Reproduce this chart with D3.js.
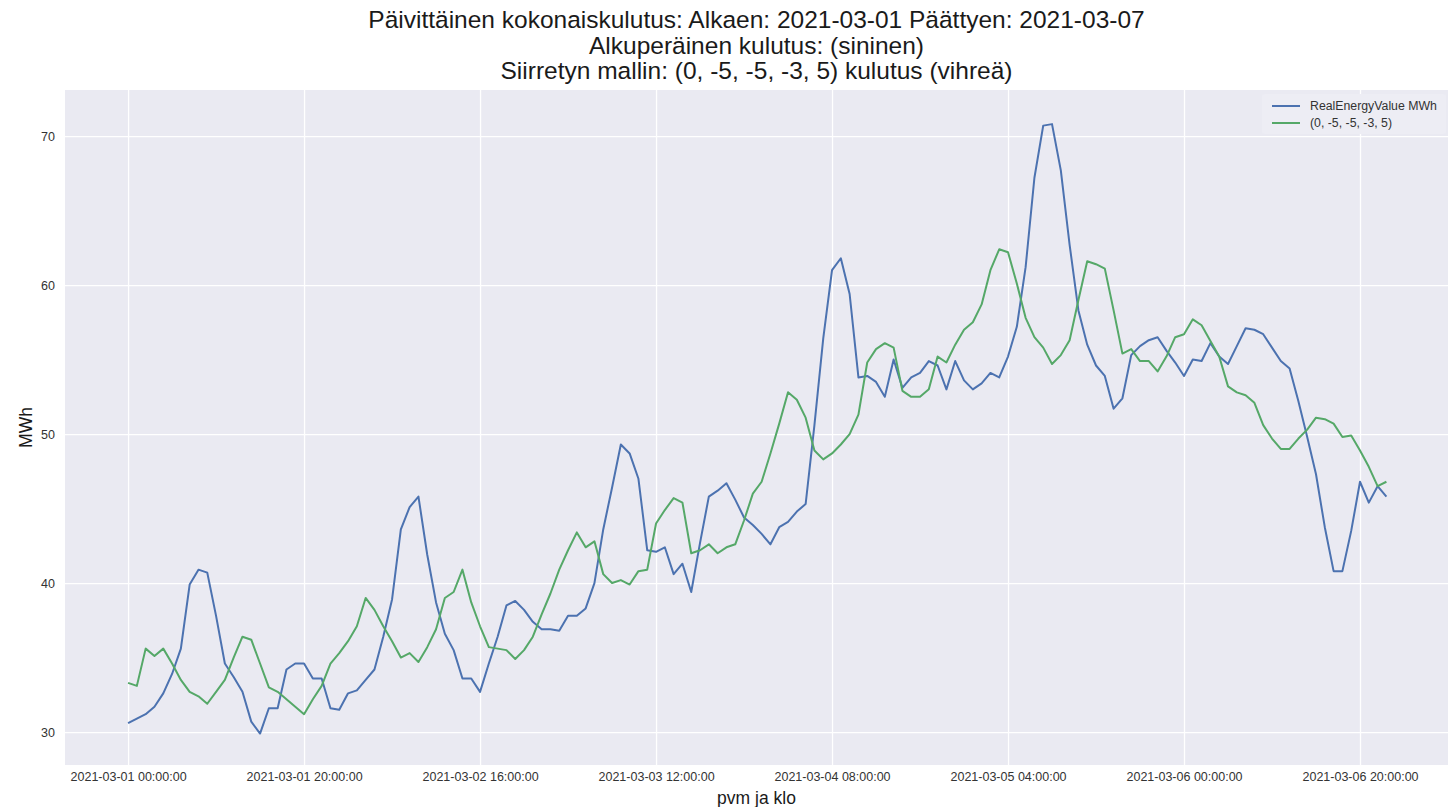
<!DOCTYPE html>
<html>
<head>
<meta charset="utf-8">
<script src="https://cdn.jsdelivr.net/npm/d3@7"></script>
<style>
  html, body { margin: 0; padding: 0; background: #ffffff; }
  svg { display: block; }
</style>
</head>
<body>
<svg id="chart" width="1455" height="807"></svg>
<script>
// ---- Data (hourly, starting 2021-03-01 00:00) ----
const startTime = "2021-03-01 00:00:00";
const titleLines = [
  "Päivittäinen kokonaiskulutus: Alkaen: 2021-03-01 Päättyen: 2021-03-07",
  "Alkuperäinen kulutus: (sininen)",
  "Siirretyn mallin: (0, -5, -5, -3, 5) kulutus (vihreä)"
];
const seriesNames = ["RealEnergyValue MWh", "(0, -5, -5, -3, 5)"];
const realValues = [
  30.6, 30.9, 31.2, 31.7, 32.6, 33.9, 35.6, 39.9, 40.9, 40.7, 37.8, 34.6, 33.7, 32.7, 30.7, 29.9, 31.6, 31.6, 34.2, 34.6, 34.6, 33.6, 33.6, 31.6, 31.5,
  32.6, 32.8, 33.5, 34.2, 36.4, 38.9, 43.6, 45.1, 45.8, 41.9, 38.7, 36.6, 35.5, 33.6, 33.6, 32.7, 34.6, 36.4, 38.5, 38.8, 38.2, 37.4, 36.9, 36.9,
  36.8, 37.8, 37.8, 38.3, 40.0, 43.6, 46.4, 49.3, 48.7, 47.0, 42.2, 42.1, 42.4, 40.6, 41.3, 39.4, 42.7, 45.8, 46.2, 46.7, 45.6, 44.4, 43.9, 43.3,
  42.6, 43.75, 44.1, 44.8, 45.3, 50.6, 56.4, 61.0, 61.8, 59.4, 53.8, 53.9, 53.5, 52.5, 55.0, 53.1, 53.8, 54.1, 54.9, 54.6, 53.0, 54.9, 53.6,
  53.0, 53.4, 54.1, 53.8, 55.2, 57.2, 61.2, 67.2, 70.7, 70.8, 67.7, 62.7, 58.3, 56.0, 54.6, 53.9, 51.7, 52.4, 55.3, 55.9, 56.3, 56.5, 55.6, 54.8,
  53.9, 55.0, 54.9, 56.1, 55.2, 54.7, 55.9, 57.1, 57.0, 56.7, 55.8, 54.9, 54.4, 52.2, 49.8, 47.3, 43.75, 40.8, 40.8, 43.5, 46.8, 45.4, 46.5, 45.8
];
const shiftedValues = [
  33.3, 33.1, 35.6, 35.1, 35.6, 34.6, 33.5, 32.7, 32.4, 31.9, 32.7, 33.5, 35.0, 36.4, 36.2, 34.6, 33.0, 32.7, 32.2, 31.7, 31.2, 32.2, 33.1, 34.6, 35.3,
  36.1, 37.1, 39.0, 38.2, 37.1, 36.1, 35.0, 35.3, 34.7, 35.7, 36.9, 39.0, 39.4, 40.9, 38.7, 37.1, 35.7, 35.6, 35.5, 34.9, 35.5, 36.4, 37.9, 39.3,
  40.9, 42.2, 43.4, 42.4, 42.8, 40.6, 40.0, 40.2, 39.9, 40.8, 40.9, 44.0, 44.9, 45.7, 45.4, 42.0, 42.2, 42.6, 42.0, 42.4, 42.6, 44.2, 46.0, 46.8,
  48.7, 50.7, 52.8, 52.3, 51.1, 48.9, 48.3, 48.7, 49.3, 50.0, 51.3, 54.8, 55.7, 56.1, 55.8, 52.9, 52.5, 52.5, 53.0, 55.2, 54.8, 56.0, 57.0, 57.5,
  58.7, 61.0, 62.4, 62.2, 60.1, 57.8, 56.5, 55.8, 54.7, 55.3, 56.3, 59.0, 61.6, 61.4, 61.1, 58.3, 55.4, 55.7, 54.9, 54.9, 54.2, 55.2, 56.5,
  56.7, 57.7, 57.3, 56.25, 55.2, 53.2, 52.8, 52.6, 52.1, 50.6, 49.7, 49.0, 49.0, 49.7, 50.3, 51.1, 51.0, 50.7, 49.8, 49.9, 48.9, 47.8, 46.5, 46.8
];
const xTickLabels = [
  "2021-03-01 00:00:00", "2021-03-01 20:00:00", "2021-03-02 16:00:00", "2021-03-03 12:00:00",
  "2021-03-04 08:00:00", "2021-03-05 04:00:00", "2021-03-06 00:00:00", "2021-03-06 20:00:00"
];
const yTicks = [30, 40, 50, 60, 70];
const colors = ["#4C72B0", "#55A868"];

// ---- Build time index ----
const parse = d3.timeParse("%Y-%m-%d %H:%M:%S");
const fmt = d3.timeFormat("%Y-%m-%d %H:%M:%S");
const t0 = parse(startTime);
const times = realValues.map((_, i) => d3.timeHour.offset(t0, i));
const xTicks = xTickLabels.map(parse);

// ---- Layout ----
const svg = d3.select("#chart");
const plot = { left: 65, right: 1448, top: 90, bottom: 765 };
const font = "'Liberation Sans', Arial, sans-serif";

const x = d3.scaleTime()
  .domain([d3.timeMinute.offset(t0, -Math.round(7.16 * 60)), d3.timeMinute.offset(t0, Math.round(150 * 60))])
  .range([plot.left, plot.right]);
const y = d3.scaleLinear()
  .domain([27.79, 73.09])
  .range([plot.bottom, plot.top]);

// background
svg.append("rect")
  .attr("x", plot.left).attr("y", plot.top)
  .attr("width", plot.right - plot.left).attr("height", plot.bottom - plot.top)
  .attr("fill", "#EAEAF2");

// grid + axes
const gx = svg.append("g").attr("transform", `translate(0,${plot.bottom})`)
  .call(d3.axisBottom(x).tickValues(xTicks).tickSize(-(plot.bottom - plot.top)).tickFormat(fmt).tickPadding(7));
gx.select(".domain").remove();
gx.selectAll(".tick line").attr("stroke", "#ffffff").attr("stroke-width", 1.3);
gx.selectAll(".tick text").attr("fill", "#333333").style("font-family", font).style("font-size", "12.5px");

const gy = svg.append("g").attr("transform", `translate(${plot.left},0)`)
  .call(d3.axisLeft(y).tickValues(yTicks).tickSize(-(plot.right - plot.left)).tickPadding(10));
gy.select(".domain").remove();
gy.selectAll(".tick line").attr("stroke", "#ffffff").attr("stroke-width", 1.3);
gy.selectAll(".tick text").attr("fill", "#333333").style("font-family", font).style("font-size", "12.5px");

// lines
const line = d3.line().x((d, i) => x(times[i])).y(d => y(d));
[realValues, shiftedValues].forEach((vals, k) => {
  svg.append("path")
    .datum(vals)
    .attr("d", line)
    .attr("fill", "none")
    .attr("stroke", colors[k])
    .attr("stroke-width", 2)
    .attr("stroke-linejoin", "round");
});

// legend
const lg = svg.append("g").attr("transform", "translate(1262,94)");
lg.append("rect").attr("x", 0).attr("y", 0).attr("width", 184).attr("height", 40)
  .attr("fill", "#ededf4").attr("rx", 3);
seriesNames.forEach((name, i) => {
  const yy = 12 + i * 17;
  lg.append("line").attr("x1", 10).attr("x2", 38).attr("y1", yy).attr("y2", yy)
    .attr("stroke", colors[i]).attr("stroke-width", 2);
  lg.append("text").attr("x", 48).attr("y", yy).attr("dy", "0.35em")
    .attr("fill", "#333333").style("font-family", font).style("font-size", "12.3px")
    .text(name);
});

// title
const cx = (plot.left + plot.right) / 2;
titleLines.forEach((t, i) => {
  svg.append("text").attr("x", cx).attr("y", 28 + i * 25.5)
    .attr("text-anchor", "middle").attr("fill", "#1a1a1a")
    .style("font-family", font).style("font-size", "24.5px")
    .text(t);
});

// axis labels
svg.append("text").attr("x", cx).attr("y", 804)
  .attr("text-anchor", "middle").attr("fill", "#1a1a1a")
  .style("font-family", font).style("font-size", "17.5px").text("pvm ja klo");
svg.append("text")
  .attr("transform", `translate(32,${(plot.top + plot.bottom) / 2}) rotate(-90)`)
  .attr("text-anchor", "middle").attr("fill", "#1a1a1a")
  .style("font-family", font).style("font-size", "17.5px").text("MWh");
</script>
</body>
</html>
